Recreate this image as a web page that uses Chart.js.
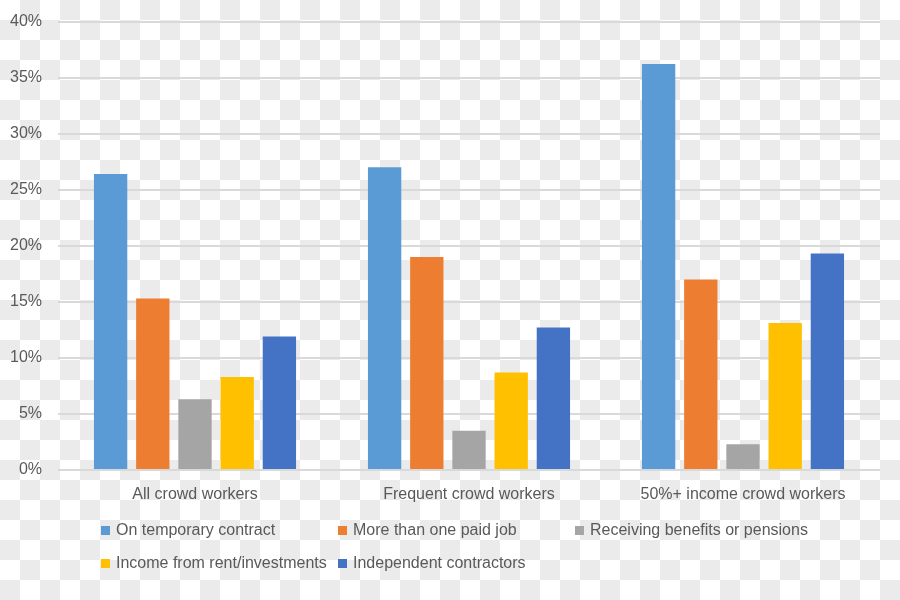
<!DOCTYPE html>
<html>
<head>
<meta charset="utf-8">
<script src="https://cdn.jsdelivr.net/npm/chart.js@4"></script>
<style>
  html, body { margin:0; padding:0; }
  body {
    width:900px; height:600px;
    background-color:#fff;
    background-image: repeating-conic-gradient(#ebebeb 0 25%, #fff 0 50%);
    background-size: 40px 40px;
  }
  #wrap { position:relative; width:900px; height:600px; }
</style>
</head>
<body>
<div id="wrap"><canvas id="c" width="900" height="600"></canvas></div>
<script>
// categories and series (percent)
const groups = ['All crowd workers', 'Frequent crowd workers', '50%+ income crowd workers'];
const temporaryContract = [26.4, 27.0, 36.2];
const moreThanOneJob = [15.3, 19.0, 17.0];
const benefitsPensions = [6.3, 3.5, 2.3];
const rentInvestments = [8.3, 8.7, 13.1];
const independentContractors = [11.9, 12.7, 19.3];
const yTicks = [0, 5, 10, 15, 20, 25, 30, 35, 40];

const textColor = '#595959';
const font = { family: "'Liberation Sans', Arial, sans-serif", size: 16 };

// legend laid out in a grid like the original (3 columns)
const gridLegend = {
  id: 'gridLegend',
  afterDraw(chart){
    const ctx = chart.ctx;
    const colX = [101, 338, 575];
    const rowY = [531, 564];
    ctx.save();
    ctx.font = font.size + 'px ' + font.family;
    ctx.fillStyle = textColor;
    ctx.textBaseline = 'middle';
    chart.data.datasets.forEach((ds, i) => {
      const x = colX[i % 3], y = rowY[Math.floor(i / 3)];
      ctx.fillStyle = ds.backgroundColor;
      ctx.fillRect(x, y - 5, 9, 9);
      ctx.fillStyle = textColor;
      ctx.fillText(ds.label, x + 15, y);
    });
    ctx.restore();
  }
};

const mk = (label, data, color) => ({
  label, data, backgroundColor: color,
  barPercentage: 0.79, categoryPercentage: 0.77
});

new Chart(document.getElementById('c'), {
  type: 'bar',
  data: {
    labels: groups,
    datasets: [
      mk('On temporary contract', temporaryContract, '#5b9bd5'),
      mk('More than one paid job', moreThanOneJob, '#ed7d31'),
      mk('Receiving benefits or pensions', benefitsPensions, '#a5a5a5'),
      mk('Income from rent/investments', rentInvestments, '#ffc000'),
      mk('Independent contractors', independentContractors, '#4472c4')
    ]
  },
  options: {
    responsive: false,
    animation: false,
    layout: { padding: { top: 21.5, right: 20, left: 0, bottom: 0 } },
    plugins: { legend: { display: false }, tooltip: { enabled: false } },
    scales: {
      x: {
        grid: { display: false, drawTicks: false },
        border: { display: false },
        ticks: { color: textColor, font, padding: 15 },
        afterFit: s => { s.height = 130; s.paddingLeft = 0; s.paddingRight = 0; }
      },
      y: {
        min: 0, max: 40,
        afterBuildTicks: s => { s.ticks = yTicks.map(v => ({ value: v })); },
        grid: { color: '#d9d9d9', lineWidth: 2, drawTicks: false },
        border: { display: false },
        ticks: { color: textColor, font, padding: 16, callback: v => v + '%' },
        afterFit: s => { s.width = 58; s.paddingTop = 0; s.paddingBottom = 0; }
      }
    }
  },
  plugins: [gridLegend]
});
</script>
</body>
</html>
